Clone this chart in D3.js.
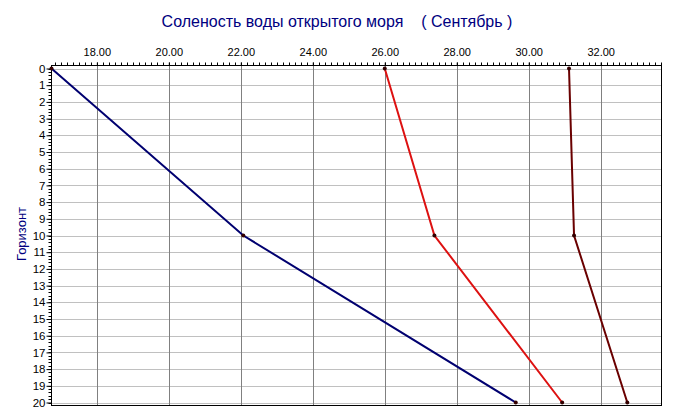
<!DOCTYPE html>
<html><head><meta charset="utf-8">
<script src="https://cdnjs.cloudflare.com/ajax/libs/d3/7.8.5/d3.min.js"></script>
<style>body{margin:0;background:#fff}svg{display:block}text{font-family:"Liberation Sans",Arial,sans-serif}</style>
</head><body>
<svg id="c" width="675" height="419"></svg>
<script>
const depths = [0, 10, 20];
const seriesBlue = [16.74, 22.07, 29.64];
const seriesRed = [26.0, 27.38, 30.93];
const seriesBrown = [31.12, 31.26, 32.74];
const xTicks = [18, 20, 22, 24, 26, 28, 30, 32];
const yTicks = d3.range(0, 21);
const title = "Соленость воды открытого моря    ( Сентябрь )";
const yTitle = "Горизонт";

const svg = d3.select("#c");
const L = 51.5, R = 661.5, T = 65.5, B = 405.5;
const x = d3.scaleLinear().domain([16.74, 33.69]).range([L, R]);
const y = d3.scaleLinear().domain([0, 20]).range([68.5, 402.5]);

// grid
svg.append("g").selectAll("line").data(yTicks).join("line")
  .attr("x1", L).attr("x2", R).attr("y1", d => Math.round(y(d)) + 0.5).attr("y2", d => Math.round(y(d)) + 0.5)
  .attr("stroke", "#c0c0c0").attr("stroke-width", 1);
svg.append("g").selectAll("line").data(xTicks).join("line")
  .attr("x1", d => Math.round(x(d)) + 0.5).attr("x2", d => Math.round(x(d)) + 0.5).attr("y1", T).attr("y2", B)
  .attr("stroke", "#808080").attr("stroke-width", 1);

// frame
svg.append("rect").attr("x", L).attr("y", T).attr("width", R - L).attr("height", B - T)
  .attr("fill", "none").attr("stroke", "#000").attr("stroke-width", 1);

// top axis
const minorX = d3.range(16.84, 33.69, 1/6);
svg.append("g").selectAll("line").data(minorX).join("line")
  .attr("x1", d => Math.round(x(d)) + 0.5).attr("x2", d => Math.round(x(d)) + 0.5)
  .attr("y1", T - 3).attr("y2", T).attr("stroke", "#000");
const xAxis = d3.axisTop(x).tickValues(xTicks).tickFormat(d3.format(".2f")).tickSize(3);
const gx = svg.append("g").attr("transform", `translate(0,${T})`).call(xAxis);
gx.select(".domain").remove();
gx.selectAll("text").attr("font-size", 11).attr("fill", "#000").attr("dy", "-0.35em")
  .attr("font-family", "'Liberation Sans', Arial, sans-serif");
gx.selectAll("line").attr("stroke", "#000");

// left axis
const minorY = d3.range(0, 20.01, 0.2);
svg.append("g").selectAll("line").data(minorY).join("line")
  .attr("x1", L - 3).attr("x2", L).attr("y1", d => Math.round(y(d)) + 0.5).attr("y2", d => Math.round(y(d)) + 0.5)
  .attr("stroke", "#000");
const yAxis = d3.axisLeft(y).tickValues(yTicks).tickFormat(d3.format("d")).tickSize(5);
const gy = svg.append("g").attr("transform", `translate(${L},0)`).call(yAxis);
gy.select(".domain").remove();
gy.selectAll("line").attr("stroke", "#000");
gy.selectAll("text").attr("font-size", 11.5).attr("fill", "#000").attr("x", -6)
  .attr("font-family", "'Liberation Sans', Arial, sans-serif");

// titles
svg.append("text").attr("x", 337).attr("y", 27).attr("text-anchor", "middle")
  .attr("font-size", 16).attr("fill", "#000080").style("white-space", "pre").attr("xml:space", "preserve").text(title);
svg.append("text").attr("transform", "translate(26,234) rotate(-90)").attr("text-anchor", "middle")
  .attr("font-size", 13).attr("fill", "#000080").text(yTitle);

// series
const series = [
  {vals: seriesBlue, color: "#000070"},
  {vals: seriesRed, color: "#dd1111"},
  {vals: seriesBrown, color: "#6a0000"}
];
const line = d3.line().x(d => x(d[0])).y(d => y(d[1]));
series.forEach(s => {
  const pts = s.vals.map((v, i) => [v, depths[i]]);
  svg.append("path").datum(pts).attr("d", line).attr("fill", "none")
    .attr("stroke", s.color).attr("stroke-width", 2);
  svg.append("g").selectAll("circle").data(pts).join("circle")
    .attr("cx", d => x(d[0])).attr("cy", d => y(d[1])).attr("r", 2)
    .attr("fill", "#300");
});
</script>
</body></html>
